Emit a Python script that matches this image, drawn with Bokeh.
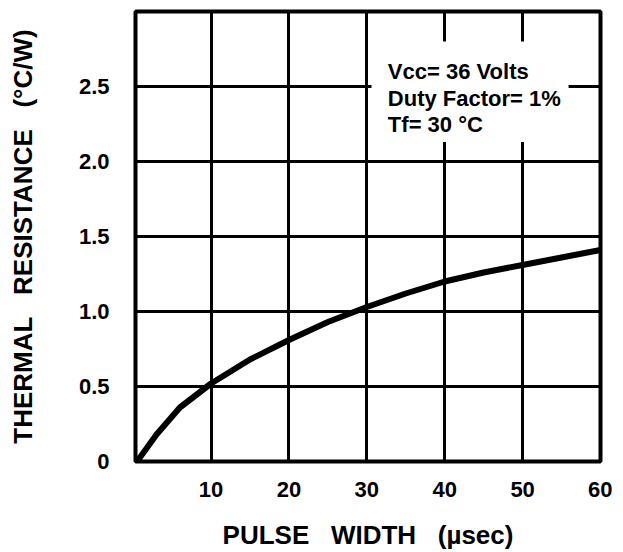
from bokeh.plotting import figure
from bokeh.models import Range1d, FixedTicker
from bokeh.core.properties import value
from bokeh.embed import file_html
from bokeh.resources import INLINE

# Data
pulse_width = [0.5, 3, 6, 10, 15, 20, 25, 30, 35, 40, 45, 50, 55, 60]
thermal_res = [0.0, 0.18, 0.36, 0.52, 0.68, 0.81, 0.93, 1.03, 1.12, 1.20, 1.26, 1.31, 1.36, 1.41]

x_ticks = [10, 20, 30, 40, 50, 60]
y_ticks = [0, 0.5, 1.0, 1.5, 2.0, 2.5]
y_tick_labels = ["0", "0.5", "1.0", "1.5", "2.0", "2.5"]

note_lines = ["Vcc= 36 Volts", "Duty Factor= 1%", "Tf= 30 \u00b0C"]
note_x = [32.7, 32.7, 32.7]
note_y = [2.60, 2.42, 2.245]

FONT = "Liberation Sans"
NB = "\u00a0"

p = figure(width=612, height=552, output_backend="svg", toolbar_location=None,
           x_range=Range1d(0.3, 60), y_range=Range1d(0, 3.0),
           min_border_left=135, min_border_right=12, min_border_top=11, min_border_bottom=91)

p.background_fill_color = "white"
p.border_fill_color = "white"
p.outline_line_color = "black"
p.outline_line_width = 4

p.xaxis.ticker = FixedTicker(ticks=x_ticks)
p.yaxis.ticker = FixedTicker(ticks=y_ticks)
p.yaxis.major_label_overrides = {t: l for t, l in zip(y_ticks, y_tick_labels)}
p.xaxis.major_label_overrides = {t: str(t) for t in x_ticks}

for ax in (p.xaxis, p.yaxis):
    ax.axis_line_color = None
    ax.major_tick_line_color = None
    ax.minor_tick_line_color = None
    ax.major_label_text_font = FONT
    ax.major_label_text_font_style = "bold"
    ax.major_label_text_font_size = "22px"
    ax.major_label_text_color = "black"
    ax.axis_label_text_font = FONT
    ax.axis_label_text_font_style = "bold"
    ax.axis_label_text_font_size = "26px"
    ax.axis_label_text_color = "black"

p.xaxis.axis_label = "PULSE" + NB * 3 + "WIDTH" + NB * 3 + "(\u00b5sec)"
p.yaxis.axis_label = "THERMAL" + NB * 3 + "RESISTANCE" + NB * 3 + "(\u00b0C/W)"
p.xaxis.major_label_standoff = 14
p.xaxis.axis_label_standoff = 20
p.yaxis.major_label_standoff = 20
p.yaxis.axis_label_standoff = 38

p.xgrid.ticker = FixedTicker(ticks=[10, 20, 30, 40, 50])
p.ygrid.ticker = FixedTicker(ticks=[0.5, 1.0, 1.5, 2.0, 2.5])
for g in (p.xgrid, p.ygrid):
    g.grid_line_color = "black"
    g.grid_line_width = 3
    g.grid_line_alpha = 1.0

# white box behind the note
p.quad(left=[30.6], right=[55.9], bottom=[2.13], top=[2.80],
       fill_color="white", line_color=None)

p.line(pulse_width, thermal_res, line_color="black", line_width=6)

p.text(x=note_x, y=note_y, text=note_lines, text_font=value(FONT),
       text_font_style="bold", text_font_size="22px", text_color="black",
       text_baseline="alphabetic", text_align="left")

open("out.html", "w").write(file_html(p, INLINE))
